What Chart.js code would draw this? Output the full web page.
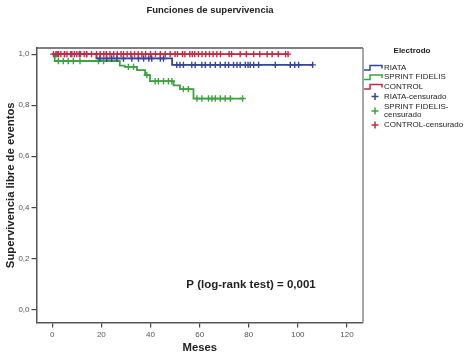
<!DOCTYPE html>
<html>
<head>
<meta charset="utf-8">
<script src="https://cdn.jsdelivr.net/npm/chart.js@4.4.0/dist/chart.umd.min.js"></script>
<style>
  html, body { margin: 0; padding: 0; background: #fff; }
</style>
</head>
<body>
<canvas id="kmChart" width="473" height="356"></canvas>
<script>
// Kaplan-Meier steps (time in months, survival after the event)
const riataTime = [0, 18, 48.8, 106];
const riataSurv = [1, 0.983, 0.958, 0.958];
const fidelisTime = [0, 1, 27.5, 29.5, 34.5, 37.8, 39.8, 49.4, 52, 57.5, 77.5];
const fidelisSurv = [1, 0.973, 0.955, 0.95, 0.937, 0.918, 0.894, 0.878, 0.863, 0.826, 0.826];
const controlTime = [0, 96];
const controlSurv = [1, 1];

// censored observations (months)
const riataCensor = [2, 5, 8, 11, 14, 19.4, 22.2, 24.2, 26.3, 29, 32.4, 35.1, 37.2, 39.3, 40.5, 44, 45.3,
  50.7, 52, 53.4, 56.8, 58.2, 60.9, 62.3, 64.3, 66.4, 68.4, 70.4, 71.8, 73.8, 75.2, 76.5, 78.6, 79.7,
  80.6, 82, 84, 90.8, 96.9, 98.7, 100.3, 106];
const fidelisCensor = [2.5, 4.5, 6.5, 8.6, 11.3, 18.8, 20.9, 31, 33.1, 38.5, 41.9, 43.2, 45.3, 47.3, 48.7,
  53.4, 55.4, 58.9, 60.9, 63.6, 65, 66.4, 68.4, 70.4, 72.5, 77.5];
const controlCensor = [0.5, 1.5, 2.5, 3.5, 5, 6, 7.5, 9, 10, 11.5, 13, 14, 16, 18, 19.5, 21, 22, 23.5, 25,
  26.5, 28, 29, 30.5, 32, 33.5, 35, 36.5, 38, 40, 42, 44, 46, 48, 50, 51, 53, 54, 56, 57, 58, 59.5, 61,
  62.5, 64, 65.5, 67, 68.5, 72, 73, 76.5, 79, 82, 84.5, 87.5, 89.5, 92, 95, 96];

const groupNames = ['RIATA', 'SPRINT FIDELIS', 'CONTROL'];
const censorNames = ['RIATA-censurado', ['SPRINT FIDELIS-', 'censurado'], 'CONTROL-censurado'];
const groupColors = ['#34459a', '#3ba33f', '#c22a45'];

const xTicks = [0, 20, 40, 60, 80, 100, 120];
const yTicks = [0, 0.2, 0.4, 0.6, 0.8, 1.0];
const yTickLabels = ['0,0', '0,2', '0,4', '0,6', '0,8', '1,0'];

const chartTitle = 'Funciones de supervivencia';
const legendTitle = 'Electrodo';
const pValueText = 'P (log-rank test) = 0,001';

const FONT = '"Liberation Sans", Arial, sans-serif';

function toPoints(times, surv) {
  return times.map((t, i) => ({ x: t, y: surv[i] }));
}

// place a censor mark on the step curve it belongs to
function censorPoints(censor, times, surv) {
  return censor.map((t) => {
    let s = surv[0];
    for (let i = 0; i < times.length; i++) {
      if (times[i] <= t) s = surv[i];
    }
    return { x: t, y: s };
  });
}

function lineSet(label, data, color, order) {
  return {
    label: label,
    data: data,
    borderColor: color,
    borderWidth: 1.8,
    pointRadius: 0,
    stepped: true,
    fill: false,
    order: order,
  };
}

function censorSet(label, data, color, order) {
  return {
    label: label,
    data: data,
    showLine: false,
    pointStyle: 'cross',
    pointRadius: 3.2,
    pointBorderWidth: 1.4,
    pointBorderColor: color,
    borderColor: color,
    order: order,
  };
}

// frame, title, legend and p value text
const decorPlugin = {
  id: 'decor',
  afterDraw(chart) {
    const ctx = chart.ctx;
    const a = chart.chartArea;
    ctx.save();
    // top and right border of the plot box
    ctx.strokeStyle = '#555';
    ctx.lineWidth = 1.5;
    ctx.beginPath();
    ctx.moveTo(a.left, a.top);
    ctx.lineTo(a.right, a.top);
    ctx.stroke();
    ctx.strokeStyle = '#8a8a8a';
    ctx.beginPath();
    ctx.moveTo(a.right, a.top);
    ctx.lineTo(a.right, a.bottom);
    ctx.stroke();

    // chart title
    ctx.fillStyle = '#222';
    ctx.textAlign = 'center';
    ctx.textBaseline = 'middle';
    ctx.font = 'bold 9.5px ' + FONT;
    ctx.fillText(chartTitle, 210, 10);

    // p value
    ctx.font = 'bold 11.5px ' + FONT;
    ctx.fillText(pValueText, 251, 285);

    // legend
    ctx.font = 'bold 8px ' + FONT;
    ctx.fillText(legendTitle, 412, 51);
    ctx.textAlign = 'left';
    ctx.font = '8px ' + FONT;
    const lineRows = [67.5, 77, 86.5];
    groupNames.forEach((name, i) => {
      const y = lineRows[i];
      ctx.strokeStyle = groupColors[i];
      ctx.lineWidth = 1.5;
      ctx.beginPath();
      ctx.moveTo(364, y + 2.5);
      ctx.lineTo(370, y + 2.5);
      ctx.lineTo(370, y - 2);
      ctx.lineTo(382, y - 2);
      ctx.lineTo(382, y + 1);
      ctx.stroke();
      ctx.fillStyle = '#222';
      ctx.fillText(name, 384, y);
    });
    const crossRows = [96.5, 111, 125];
    censorNames.forEach((name, i) => {
      const y = crossRows[i];
      ctx.strokeStyle = groupColors[i];
      ctx.lineWidth = 1.5;
      ctx.beginPath();
      ctx.moveTo(371.5, y);
      ctx.lineTo(378.5, y);
      ctx.moveTo(375, y - 3.5);
      ctx.lineTo(375, y + 3.5);
      ctx.stroke();
      ctx.fillStyle = '#222';
      if (Array.isArray(name)) {
        ctx.fillText(name[0], 384, y - 4.5);
        ctx.fillText(name[1], 384, y + 4);
      } else {
        ctx.fillText(name, 384, y);
      }
    });
    ctx.restore();
  },
};

const ctx = document.getElementById('kmChart').getContext('2d');
const kmChart = new Chart(ctx, {
  type: 'line',
  data: {
    datasets: [
      censorSet(censorNames[2], censorPoints(controlCensor, controlTime, controlSurv), groupColors[2], 0),
      lineSet(groupNames[2], toPoints(controlTime, controlSurv), groupColors[2], 1),
      censorSet(censorNames[0], censorPoints(riataCensor, riataTime, riataSurv), groupColors[0], 2),
      lineSet(groupNames[0], toPoints(riataTime, riataSurv), groupColors[0], 3),
      censorSet(censorNames[1], censorPoints(fidelisCensor, fidelisTime, fidelisSurv), groupColors[1], 4),
      lineSet(groupNames[1], toPoints(fidelisTime, fidelisSurv), groupColors[1], 5),
    ],
  },
  options: {
    responsive: false,
    animation: false,
    events: [],
    layout: { padding: { top: 48, right: 110, left: 0, bottom: 0 } },
    plugins: {
      legend: { display: false },
      tooltip: { enabled: false },
    },
    scales: {
      x: {
        type: 'linear',
        min: -6.4,
        max: 126.5,
        afterFit: (scale) => { scale.height = 33.5; },
        afterBuildTicks: (scale) => { scale.ticks = xTicks.map((v) => ({ value: v })); },
        grid: { drawOnChartArea: false, drawTicks: true, tickLength: 5, color: '#444', lineWidth: 1.2 },
        border: { display: true, color: '#555', width: 1.5 },
        ticks: {
          color: '#555',
          padding: 2,
          maxRotation: 0,
          font: { family: FONT, size: 8 },
          callback: (v) => String(v),
        },
        title: {
          display: true,
          text: 'Meses',
          color: '#222',
          padding: { top: 0, bottom: 1 },
          font: { family: FONT, size: 11.3, weight: 'bold' },
        },
      },
      y: {
        type: 'linear',
        min: -0.051,
        max: 1.024,
        afterFit: (scale) => { scale.width = 36.5; },
        afterBuildTicks: (scale) => { scale.ticks = yTicks.map((v) => ({ value: v })); },
        grid: { drawOnChartArea: false, drawTicks: true, tickLength: 5, color: '#444', lineWidth: 1.2 },
        border: { display: true, color: '#555', width: 1.5 },
        ticks: {
          color: '#555',
          padding: 2,
          font: { family: FONT, size: 8 },
          callback: (v) => {
            const i = yTicks.findIndex((t) => Math.abs(t - v) < 1e-6);
            return i >= 0 ? yTickLabels[i] : '';
          },
        },
        title: {
          display: true,
          text: 'Supervivencia libre de eventos',
          color: '#222',
          padding: { top: 4, bottom: 0 },
          font: { family: FONT, size: 11.3, weight: 'bold' },
        },
      },
    },
  },
  plugins: [decorPlugin],
});
</script>
</body>
</html>
